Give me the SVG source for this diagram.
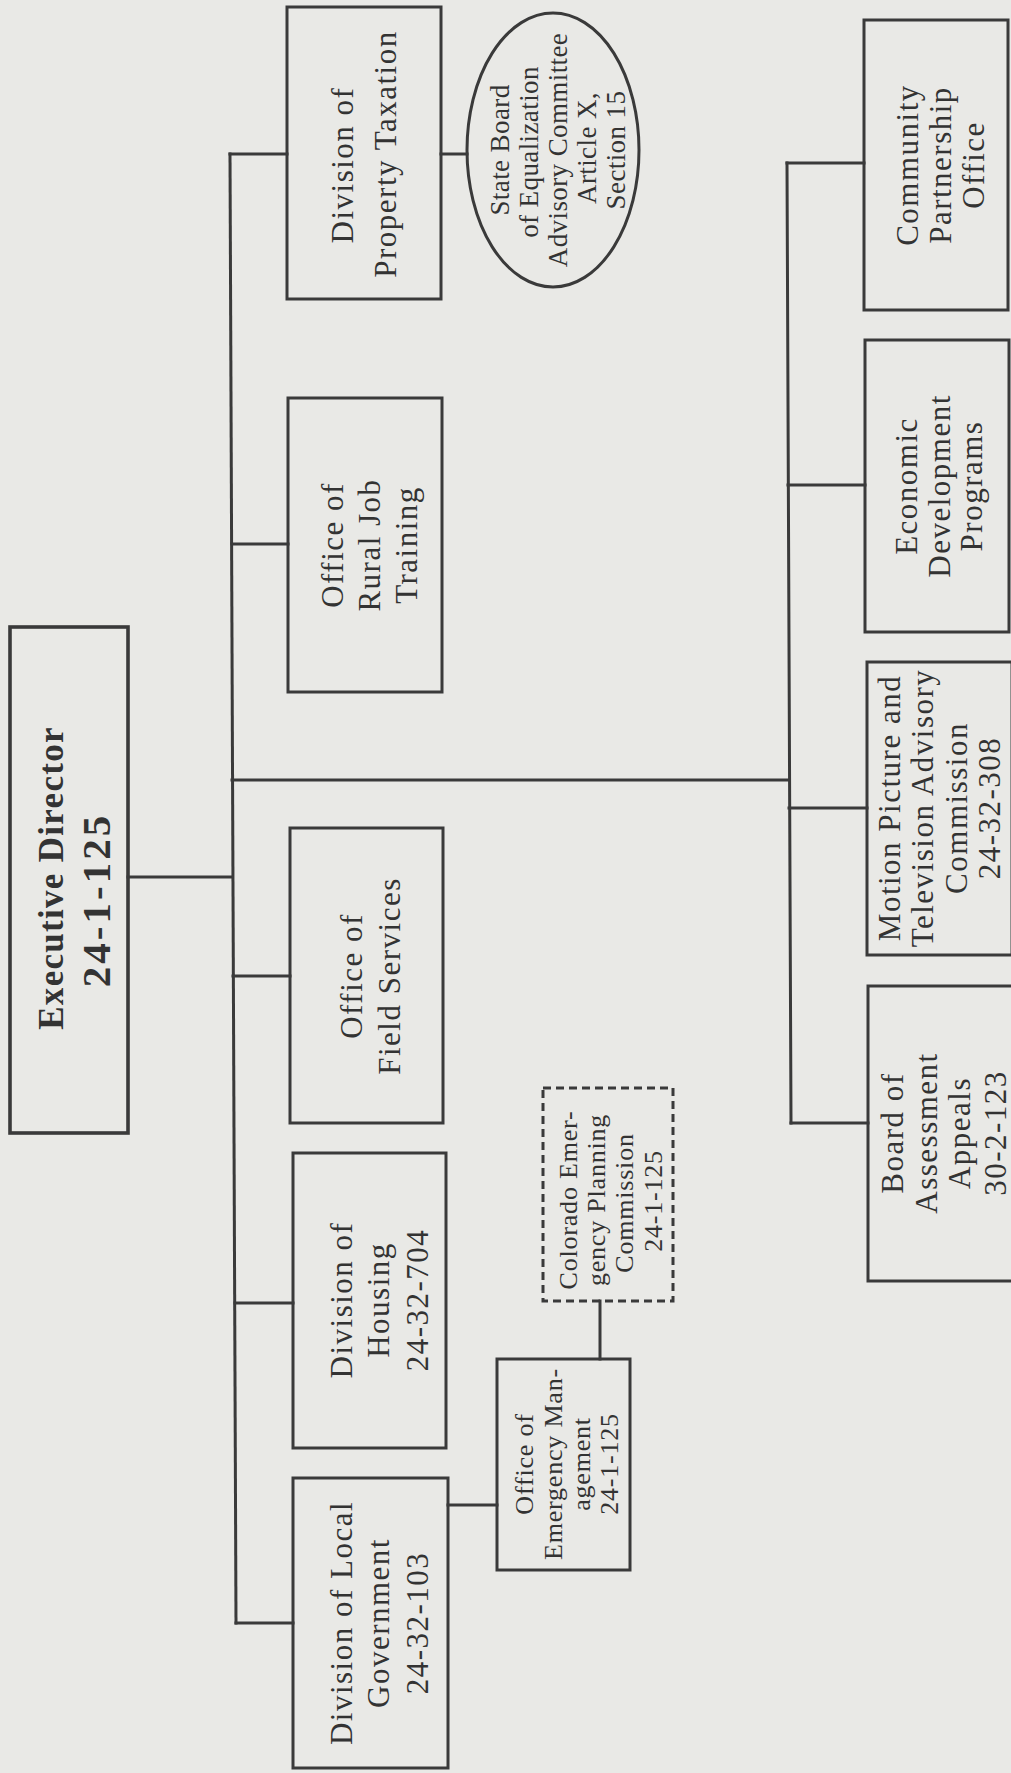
<svg xmlns="http://www.w3.org/2000/svg" width="1011" height="1773" viewBox="0 0 1011 1773">
<style>
.bg{fill:#e9e9e6}
.box{fill:none;stroke:#3a3a3a;stroke-width:3}
.exec{fill:none;stroke:#3a3a3a;stroke-width:3.6}
.dash{fill:none;stroke:#3a3a3a;stroke-width:3;stroke-dasharray:8 5}
.ln{fill:none;stroke:#3a3a3a;stroke-width:3;stroke-linecap:square}
text{font-family:"Liberation Serif","Times New Roman",serif;fill:#333;text-anchor:middle}
.t{font-size:31px;letter-spacing:1.5px}
.s{font-size:27px;letter-spacing:0.4px}
.m{font-size:26px;letter-spacing:0.8px}
.h{font-size:35px;font-weight:bold;letter-spacing:1.3px}
.hn{font-size:41px;font-weight:bold;letter-spacing:3px}
</style>
<rect class="bg" x="0" y="0" width="1011" height="1773"/>

<g id="connectors">
  <line class="ln" x1="128" y1="877" x2="232" y2="877"/>
  <line class="ln" x1="230" y1="154" x2="236" y2="1623"/>
  <line class="ln" x1="230" y1="154" x2="287" y2="154"/>
  <line class="ln" x1="232" y1="544" x2="288" y2="544"/>
  <line class="ln" x1="233" y1="976" x2="290" y2="976"/>
  <line class="ln" x1="235" y1="1303" x2="293" y2="1303"/>
  <line class="ln" x1="236" y1="1623" x2="293" y2="1623"/>
  <line class="ln" x1="232" y1="780" x2="788" y2="780"/>
  <line class="ln" x1="787" y1="163" x2="791" y2="1123"/>
  <line class="ln" x1="787" y1="163" x2="864" y2="163"/>
  <line class="ln" x1="788" y1="485" x2="865" y2="485"/>
  <line class="ln" x1="789" y1="808" x2="867" y2="808"/>
  <line class="ln" x1="791" y1="1123" x2="868" y2="1123"/>
  <line class="ln" x1="441" y1="154" x2="467" y2="154"/>
  <line class="ln" x1="448" y1="1505" x2="497" y2="1505"/>
  <line class="ln" x1="600" y1="1301" x2="600" y2="1359"/>
</g>

<g id="executive-director">
  <rect class="exec" x="10" y="627" width="118" height="506"/>
  <text class="h" transform="translate(63,878) rotate(-90)">Executive Director</text>
  <text class="hn" transform="translate(110,900) rotate(-90)">24-1-125</text>
</g>

<g id="property-taxation">
  <rect class="box" x="287" y="7" width="154" height="292"/>
  <text class="t" transform="translate(353,165) rotate(-90)">Division of</text>
  <text class="t" transform="translate(396,154) rotate(-90)">Property Taxation</text>
</g>

<g id="state-board">
  <ellipse class="box" cx="553" cy="150" rx="86" ry="137"/>
  <text class="s" transform="translate(509,150) rotate(-90)">State Board</text>
  <text class="s" transform="translate(538,152) rotate(-90)">of Equalization</text>
  <text class="s" transform="translate(567,150) rotate(-90)">Advisory Committee</text>
  <text class="s" transform="translate(596,148) rotate(-90)">Article X,</text>
  <text class="s" transform="translate(625,150) rotate(-90)">Section 15</text>
</g>

<g id="rural-job">
  <rect class="box" x="288" y="398" width="154" height="294"/>
  <text class="t" transform="translate(343,545) rotate(-90)">Office of</text>
  <text class="t" transform="translate(380,545) rotate(-90)">Rural Job</text>
  <text class="t" transform="translate(417,545) rotate(-90)">Training</text>
</g>

<g id="field-services">
  <rect class="box" x="290" y="828" width="153" height="295"/>
  <text class="t" transform="translate(362,976) rotate(-90)">Office of</text>
  <text class="t" transform="translate(400,976) rotate(-90)">Field Services</text>
</g>

<g id="housing">
  <rect class="box" x="293" y="1153" width="153" height="295"/>
  <text class="t" transform="translate(352,1300) rotate(-90)">Division of</text>
  <text class="t" transform="translate(389,1300) rotate(-90)">Housing</text>
  <text class="t" transform="translate(428,1300) rotate(-90)">24-32-704</text>
</g>

<g id="local-government">
  <rect class="box" x="293" y="1478" width="155" height="290"/>
  <text class="t" transform="translate(352,1623) rotate(-90)">Division of Local</text>
  <text class="t" transform="translate(389,1623) rotate(-90)">Government</text>
  <text class="t" transform="translate(428,1623) rotate(-90)">24-32-103</text>
</g>

<g id="emergency-management">
  <rect class="box" x="497" y="1359" width="133" height="211"/>
  <text class="m" transform="translate(533,1464) rotate(-90)">Office of</text>
  <text class="m" transform="translate(562,1464) rotate(-90)">Emergency Man-</text>
  <text class="m" transform="translate(590,1464) rotate(-90)">agement</text>
  <text class="m" transform="translate(618,1464) rotate(-90)">24-1-125</text>
</g>

<g id="colorado-emergency-planning">
  <rect class="dash" x="543" y="1088" width="130" height="213"/>
  <text class="m" transform="translate(577,1200) rotate(-90)">Colorado Emer-</text>
  <text class="m" transform="translate(605,1200) rotate(-90)">gency Planning</text>
  <text class="m" transform="translate(633,1203) rotate(-90)">Commission</text>
  <text class="m" transform="translate(662,1201) rotate(-90)">24-1-125</text>
</g>

<g id="community-partnership">
  <rect class="box" x="864" y="20" width="144" height="290"/>
  <text class="t" transform="translate(918,165) rotate(-90)">Community</text>
  <text class="t" transform="translate(951,165) rotate(-90)">Partnership</text>
  <text class="t" transform="translate(984,165) rotate(-90)">Office</text>
</g>

<g id="economic-development">
  <rect class="box" x="865" y="340" width="144" height="292"/>
  <text class="t" transform="translate(917,486) rotate(-90)">Economic</text>
  <text class="t" transform="translate(950,486) rotate(-90)">Development</text>
  <text class="t" transform="translate(982,486) rotate(-90)">Programs</text>
</g>

<g id="motion-picture">
  <rect class="box" x="867" y="662" width="145" height="293"/>
  <text class="t" transform="translate(900,808) rotate(-90)">Motion Picture and</text>
  <text class="t" transform="translate(933,808) rotate(-90)">Television Advisory</text>
  <text class="t" transform="translate(967,808) rotate(-90)">Commission</text>
  <text class="t" transform="translate(1000,808) rotate(-90)">24-32-308</text>
</g>

<g id="board-of-assessment">
  <rect class="box" x="868" y="986" width="146" height="295"/>
  <text class="t" transform="translate(903,1133) rotate(-90)">Board of</text>
  <text class="t" transform="translate(937,1133) rotate(-90)">Assessment</text>
  <text class="t" transform="translate(970,1133) rotate(-90)">Appeals</text>
  <text class="t" transform="translate(1006,1133) rotate(-90)">30-2-123</text>
</g>
</svg>
